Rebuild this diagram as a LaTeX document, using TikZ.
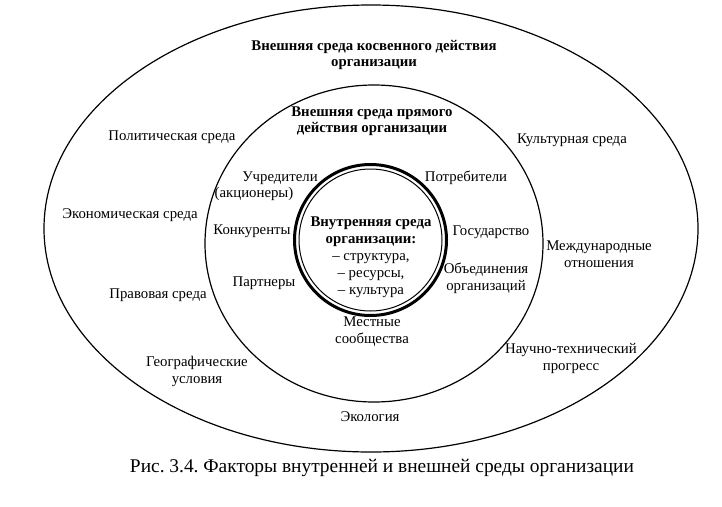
\documentclass[tikz,border=0pt]{standalone}
\usepackage{fontspec}
\setmainfont{Liberation Serif}
\frenchspacing
\begin{document}
\begin{tikzpicture}[x=1pt,y=-1pt,
  lbl/.style={inner sep=0pt, align=center, font=\fontsize{14.8}{17}\selectfont},
  hd/.style={inner sep=0pt, align=center, font=\fontsize{14.8}{16}\selectfont\bfseries},
  ring/.style={draw=black, line width=1.2pt}]
\useasboundingbox (0,0) rectangle (722,506);
% circles
\draw[ring] (371,228.5) ellipse [x radius=327, y radius=223.5];
\draw[ring] (374,243.5) ellipse [x radius=169, y radius=158.5];
\draw[line width=3pt] (370.5,240) ellipse [x radius=76, y radius=75.5];
\draw[line width=1pt] (370.5,240) ellipse [x radius=71.5, y radius=71];
% outer headings
\node[hd] (outerhd) at (374,55) {Внешняя среда косвенного действия\\организации};
\node[hd] (midhd) at (372,121) {Внешняя среда прямого\\действия организации};
% outer factors
\node[lbl] (polit) at (172,137) {Политическая среда};
\node[lbl] (econ) at (130,215) {Экономическая среда};
\node[lbl] (prav) at (158,295) {Правовая среда};
\node[lbl] (geo) at (197,371) {Географические\\условия};
\node[lbl] (ecol) at (370,417) {Экология};
\node[lbl] (nauch) at (571,359) {Научно-технический\\прогресс};
\node[lbl] (mezhd) at (599,254.5) {Международные\\отношения};
\node[lbl] (kult) at (572,140) {Культурная среда};
% middle factors
\node[lbl] (uchr) at (280,178) {Учредители};
\node[lbl] (akc) at (254,194) {(акционеры)};
\node[lbl] (konk) at (252,231) {Конкуренты};
\node[lbl] (partn) at (264,283) {Партнеры};
\node[lbl] (potr) at (466,178) {Потребители};
\node[lbl] (gos) at (491,232) {Государство};
\node[lbl] (obed) at (486,278.5) {Объединения\\организаций};
\node[lbl] (mestn) at (372,331.5) {Местные\\сообщества};
% inner
\node[inner sep=0pt, align=center, font=\fontsize{14.8}{17}\selectfont] (inner) at (371,257)
  {\textbf{Внутренняя среда}\\\textbf{организации:}\\– структура,\\– ресурсы,\\– культура};
% caption
\node[inner sep=0pt, font=\fontsize{19.4}{21}\selectfont] (cap) at (382,468) {Рис. 3.4. Факторы внутренней и внешней среды организации};
\end{tikzpicture}
\end{document}
